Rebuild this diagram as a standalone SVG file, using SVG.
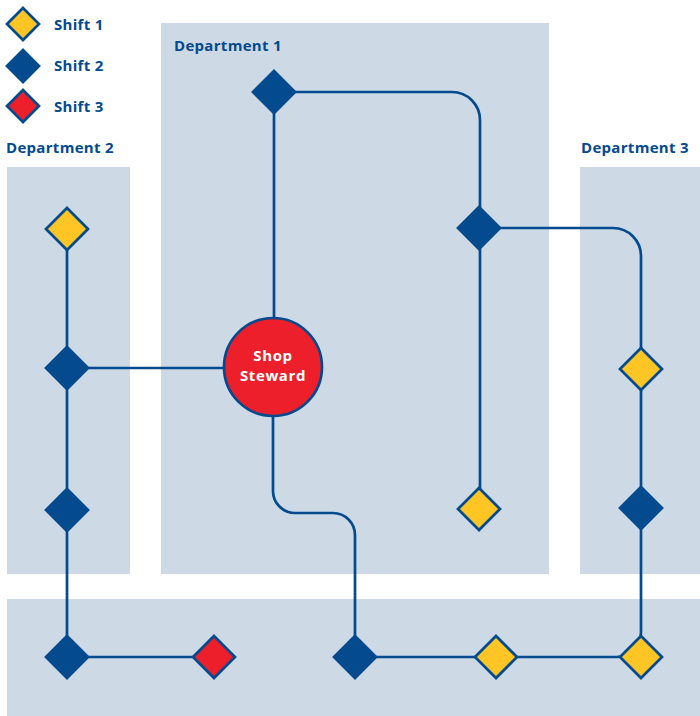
<svg xmlns="http://www.w3.org/2000/svg" width="700" height="716" viewBox="0 0 700 716">
<style>
.panel{fill:#cddae6}
.lbl{font-family:"Open Sans","Liberation Sans",sans-serif;font-weight:bold;font-size:15px;letter-spacing:0.3px;fill:#034a8f}
.wire{fill:none;stroke:#034a8f;stroke-width:2.7}
.s1{fill:#fec524;stroke:#034a8f;stroke-width:2.7}
.s2{fill:#034a8f;stroke:#034a8f;stroke-width:2.7}
.s3{fill:#ed1f2a;stroke:#034a8f;stroke-width:2.7}
.st{font-family:"Open Sans","Liberation Sans",sans-serif;font-weight:bold;font-size:15px;letter-spacing:0.6px;fill:#ffffff}
</style>
<defs>
<polygon id="d" points="0,-21 21,0 0,21 -21,0"/>
<polygon id="ds" points="0,-16 16,0 0,16 -16,0"/>
</defs>
<rect width="700" height="716" fill="#ffffff"/>
<g id="panels">
<rect class="panel" x="161" y="23" width="388" height="551"/>
<rect class="panel" x="7" y="167" width="123" height="407"/>
<rect class="panel" x="580" y="167" width="120" height="407"/>
<rect class="panel" x="7" y="599" width="693" height="117"/>
</g>
<g id="labels">
<text class="lbl" x="174" y="51">Department 1</text>
<text class="lbl" x="6" y="153">Department 2</text>
<text class="lbl" x="581" y="153">Department 3</text>
</g>
<g id="legend">
<use href="#ds" class="s1" x="23" y="24"/>
<text class="lbl" x="54" y="30">Shift 1</text>
<use href="#ds" class="s2" x="23" y="66"/>
<text class="lbl" x="54" y="71">Shift 2</text>
<use href="#ds" class="s3" x="23" y="106"/>
<text class="lbl" x="54" y="112">Shift 3</text>
</g>
<g id="connectors">
<path class="wire" d="M274,92 H452 A28,28 0 0 1 480,120 V509"/>
<path class="wire" d="M274,92 V318"/>
<path class="wire" d="M479,228 H613 A28,28 0 0 1 641,256 V632 A25,25 0 0 1 616,657 H355"/>
<path class="wire" d="M273,416 V491 A22,22 0 0 0 295,513 H333 A22,22 0 0 1 355,535 V657"/>
<path class="wire" d="M67,229 V657 H214"/>
<path class="wire" d="M67,368 H224"/>
</g>
<g id="n_d1a"><use href="#d" class="s2" x="274" y="92"/></g>
<g id="n_d1b"><use href="#d" class="s2" x="479" y="228"/></g>
<g id="n_d1c"><use href="#d" class="s1" x="479" y="509"/></g>
<g id="n_d2a"><use href="#d" class="s1" x="67" y="229"/></g>
<g id="n_d2b"><use href="#d" class="s2" x="67" y="368"/></g>
<g id="n_d2c"><use href="#d" class="s2" x="67" y="510"/></g>
<g id="n_d3a"><use href="#d" class="s1" x="641" y="369"/></g>
<g id="n_d3b"><use href="#d" class="s2" x="641" y="508"/></g>
<g id="n_b1"><use href="#d" class="s2" x="67" y="657"/></g>
<g id="n_b2"><use href="#d" class="s3" x="214" y="657"/></g>
<g id="n_b3"><use href="#d" class="s2" x="355" y="657"/></g>
<g id="n_b4"><use href="#d" class="s1" x="496" y="657"/></g>
<g id="n_b5"><use href="#d" class="s1" x="641" y="657"/></g>
<g id="steward">
<circle cx="273" cy="367" r="49" fill="#ed1f2a" stroke="#034a8f" stroke-width="2.7"/>
<text class="st" x="273" y="361" text-anchor="middle">Shop</text>
<text class="st" x="273" y="381" text-anchor="middle">Steward</text>
</g>
</svg>
